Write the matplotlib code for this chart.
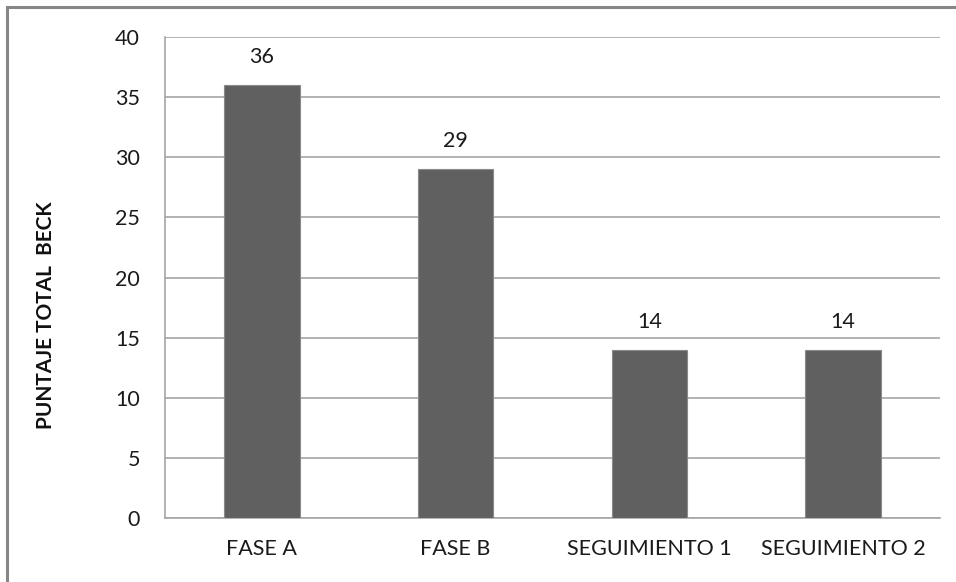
import matplotlib
matplotlib.use("Agg")
import matplotlib.pyplot as plt
from matplotlib.patches import Rectangle

categories = ["FASE A", "FASE B", "SEGUIMIENTO 1", "SEGUIMIENTO 2"]
scores = [36, 29, 14, 14]
y_ticks = [0, 5, 10, 15, 20, 25, 30, 35, 40]

plt.rcParams['font.family'] = ['Lato', 'DejaVu Sans']

W, H = 956, 582
fig = plt.figure(figsize=(W / 100, H / 100), dpi=100)
fig.patch.set_facecolor('white')

# outer chart-area frame (left and top edges visible)
fig.patches.append(Rectangle((7 / W, -0.1), 1.2, 1 - 7 / H + 0.1,
                             transform=fig.transFigure, fill=False,
                             edgecolor='#868686', linewidth=2.2))

ax = fig.add_axes([165 / W, 1 - 518 / H, (940 - 165) / W, (518 - 37) / H])
x = range(len(categories))
bars = ax.bar(x, scores, width=0.39, color='#606060', edgecolor='#8a8a8a',
              linewidth=0.8, zorder=3)

ax.set_xlim(-0.5, len(categories) - 0.5)
ax.set_ylim(0, 40)
ax.set_yticks(y_ticks)
ax.set_yticklabels([str(t) for t in y_ticks], fontsize=15.5, color='#1a1a1a')
ax.set_xticks(list(x))
ax.set_xticklabels(categories, fontsize=15.5, color='#1a1a1a')
ax.tick_params(axis='both', length=0)
ax.tick_params(axis='y', pad=18)
ax.tick_params(axis='x', pad=15)

ax.grid(axis='y', color='#a6a6a6', linewidth=1.2, zorder=0)
for side in ['top', 'right']:
    ax.spines[side].set_visible(False)
for side in ['left', 'bottom']:
    ax.spines[side].set_color('#a6a6a6')
    ax.spines[side].set_linewidth(1.2)

for xi, v in zip(x, scores):
    ax.annotate(str(v), (xi, v), xytext=(0, 13), textcoords='offset points',
                ha='center', va='bottom', fontsize=15.5, color='#1a1a1a')

fig.text(46 / W, 1 - 315 / H, "PUNTAJE TOTAL  BECK", rotation=90,
         ha='center', va='center', fontsize=15, fontweight='bold',
         color='#111111')

fig.savefig("out.png", dpi=100)
